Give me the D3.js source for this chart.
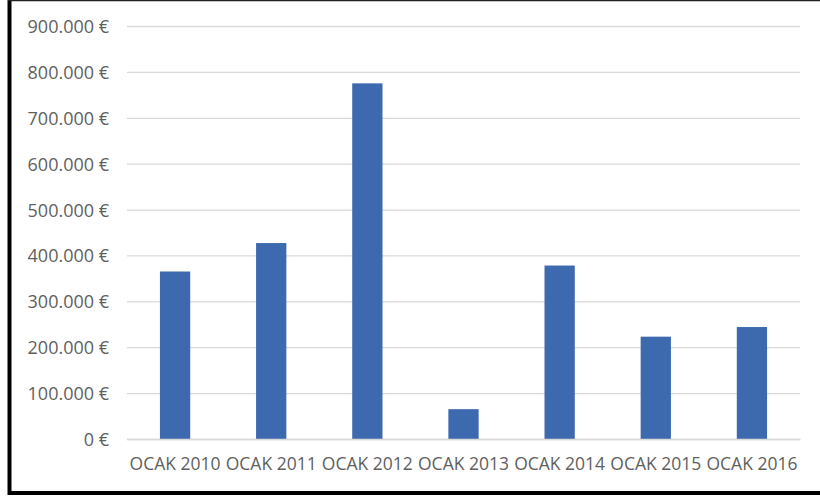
<!DOCTYPE html>
<html>
<head>
<meta charset="utf-8">
<script src="https://cdn.jsdelivr.net/npm/d3@7"></script>
<style>
  html, body { margin: 0; padding: 0; background: #fff; }
  svg { display: block; }
</style>
</head>
<body>
<svg id="chart" width="820" height="500"></svg>
<script>
const categories = ["OCAK 2010", "OCAK 2011", "OCAK 2012", "OCAK 2013", "OCAK 2014", "OCAK 2015", "OCAK 2016"];
const values = [365000, 427000, 775000, 65000, 378000, 223000, 244000];
const yTicks = [0, 100000, 200000, 300000, 400000, 500000, 600000, 700000, 800000, 900000];

const svg = d3.select("#chart");
const W = 820, H = 500;
const margin = { left: 127, right: 20, top: 26, bottom: 61 };
const plotW = W - margin.left - margin.right;
const plotH = H - margin.top - margin.bottom;

const fmt = v => (v === 0 ? "0" : d3.format(",")(v).replace(/,/g, ".")) + "\u00A0€";

const x = d3.scaleBand().domain(categories).range([margin.left, margin.left + plotW]).paddingInner(0.685).paddingOuter(0.3425);
const y = d3.scaleLinear().domain([0, 900000]).range([margin.top + plotH, margin.top]);

// frame
svg.append("rect").attr("x", 0).attr("y", 0).attr("width", W).attr("height", H).attr("fill", "#fff");
svg.append("line").attr("x1", 9.5).attr("x2", 9.5).attr("y1", 0).attr("y2", 495).attr("stroke", "#000").attr("stroke-width", 4);
svg.append("line").attr("x1", 8).attr("x2", W).attr("y1", 493).attr("y2", 493).attr("stroke", "#000").attr("stroke-width", 4);
svg.append("line").attr("x1", 8).attr("x2", W).attr("y1", 0.5).attr("y2", 0.5).attr("stroke", "#222").attr("stroke-width", 1.5);

// grid
const yAxis = d3.axisLeft(y).tickValues(yTicks).tickSize(-plotW).tickFormat(fmt).tickPadding(18);
const gy = svg.append("g").attr("transform", `translate(${margin.left},0)`).call(yAxis);
gy.select(".domain").remove();
gy.selectAll(".tick line").attr("stroke", "#d9d9d9").attr("stroke-width", 1.3);
gy.selectAll(".tick text").attr("fill", "#5f5f5f").attr("font-family", "'Open Sans', sans-serif").attr("font-size", 18).attr("dy", "0.36em");

// bars
svg.append("g").selectAll("rect").data(values).join("rect")
  .attr("x", (d, i) => x(categories[i]))
  .attr("width", x.bandwidth())
  .attr("y", d => y(d))
  .attr("height", d => y(0) - y(d))
  .attr("fill", "#3d6aae");

// x axis
const xAxis = d3.axisBottom(x).tickSize(0).tickPadding(19);
const gx = svg.append("g").attr("transform", `translate(0,${y(0)})`).call(xAxis);
gx.select(".domain").attr("stroke", "#d9d9d9").attr("stroke-width", 1.3);
gx.selectAll(".tick text").attr("fill", "#5f5f5f").attr("font-family", "'Open Sans', sans-serif").attr("font-size", 17.5);
</script>
</body>
</html>
